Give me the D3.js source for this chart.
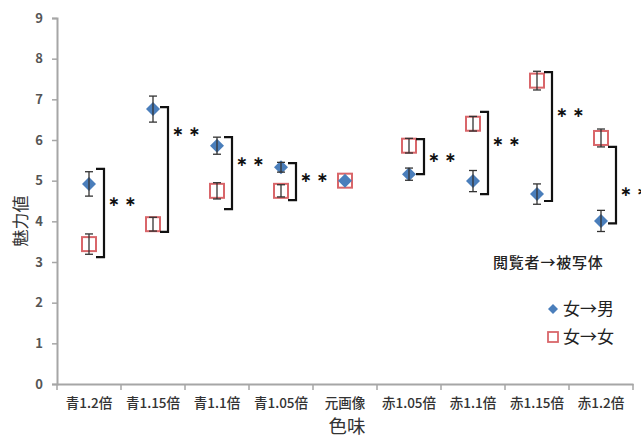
<!DOCTYPE html>
<html><head><meta charset="utf-8">
<script src="https://cdn.jsdelivr.net/npm/d3@7"></script>
<style>body{margin:0;background:#fff}svg{display:block}</style>
</head><body><svg id="c" width="641" height="439"></svg>
<script>
const categories = ["青1.2倍","青1.15倍","青1.1倍","青1.05倍","元画像","赤1.05倍","赤1.1倍","赤1.15倍","赤1.2倍"];
const maleValues = [4.92,6.76,5.86,5.33,5.00,5.16,4.99,4.67,4.01];
const maleErrors = [0.30,0.32,0.21,0.12,0.00,0.15,0.26,0.25,0.26];
const femaleValues = [3.44,3.93,4.75,4.75,5.00,5.86,6.40,7.46,6.05];
const femaleErrors = [0.25,0.17,0.20,0.15,0.00,0.18,0.18,0.23,0.22];
const yTicks = [0,1,2,3,4,5,6,7,8,9];
// significance brackets: category index, top value, bottom value, label level
const sigIndex = [0,1,2,3,5,6,7,8];
const sigTop = [5.29,6.81,6.07,5.43,6.02,6.69,7.67,5.83];
const sigBottom = [3.12,3.74,4.30,4.52,5.16,4.67,4.50,3.95];
const sigLabelY = [4.50,6.22,5.48,5.09,5.58,5.97,6.69,4.75];
const sigLabel = "\u2217 \u2217";
const legendTitle = "閲覧者→被写体";
const seriesNames = ["女→男","女→女"];
const xTitle = "色味";
const yTitle = "魅力値";

const svg = d3.select("#c");
const FONT = "'Noto Sans CJK JP', 'Noto Sans', sans-serif";
const x = d3.scaleBand().domain(categories).range([57,633]);
const y = d3.scaleLinear().domain([0,9]).range([384,18]);
const cx = i => x(categories[i]) + x.bandwidth()/2;
const blue = "#4a7ebb", red = "#d9666a", axisCol = "#a6a6a6";

// axes
const gy = svg.append("g").attr("transform","translate(57,0)")
  .call(d3.axisLeft(y).tickValues(yTicks).tickSize(5).tickPadding(9));
const gx = svg.append("g").attr("transform","translate(0,384)")
  .call(d3.axisBottom(x).tickSize(0).tickPadding(14));
[gy,gx].forEach(g=>{
  g.select(".domain").attr("stroke",axisCol).attr("stroke-width",2);
  g.selectAll(".tick line").attr("stroke",axisCol).attr("stroke-width",1.5);
  g.selectAll("text").style("font-family",FONT);
});
gy.selectAll("text").style("font-size","13px").style("font-weight","600").attr("fill","#555");
gx.selectAll("text").style("font-size","13.5px").style("font-weight","500").attr("fill","#333");
// x boundary ticks
svg.append("g").selectAll("line").data(d3.range(categories.length+1)).join("line")
  .attr("x1",i=>x.range()[0]+i*x.step()).attr("x2",i=>x.range()[0]+i*x.step())
  .attr("y1",384).attr("y2",390).attr("stroke",axisCol).attr("stroke-width",1.5);

// titles
svg.append("text").attr("x",347).attr("y",433).attr("text-anchor","middle")
  .style("font-family",FONT).style("font-size","18.5px").attr("fill","#333").text(xTitle);
svg.append("text").attr("transform","translate(27,221) rotate(-90)").attr("text-anchor","middle")
  .style("font-family",FONT).style("font-size","17px").attr("fill","#333").text(yTitle);

// error bars
function errBars(vals, errs){
  const g = svg.append("g").attr("stroke","#333").attr("stroke-width",1.3);
  vals.forEach((v,i)=>{
    if(errs[i]<=0) return;
    const X = cx(i), t = y(v+errs[i]), b = y(v-errs[i]);
    g.append("line").attr("x1",X).attr("x2",X).attr("y1",t).attr("y2",b);
    g.append("line").attr("x1",X-4).attr("x2",X+4).attr("y1",t).attr("y2",t);
    g.append("line").attr("x1",X-4).attr("x2",X+4).attr("y1",b).attr("y2",b);
  });
}
// female squares
svg.append("g").selectAll("rect").data(femaleValues).join("rect")
  .attr("x",(d,i)=>cx(i)-7).attr("y",d=>y(d)-7).attr("width",14).attr("height",14)
  .attr("fill","none").attr("stroke",red).attr("stroke-width",2);
errBars(femaleValues,femaleErrors);
// male diamonds
svg.append("g").selectAll("path").data(maleValues).join("path")
  .attr("d",(d,i)=>`M${cx(i)},${y(d)-7}L${cx(i)+7},${y(d)}L${cx(i)},${y(d)+7}L${cx(i)-7},${y(d)}Z`)
  .attr("fill",blue);
errBars(maleValues,maleErrors);

// significance brackets
const bx = i => cx(i) + 15;
const gb = svg.append("g");
sigIndex.forEach((ci,k)=>{
  const X = bx(ci), t = y(sigTop[k]), b = y(sigBottom[k]);
  gb.append("path").attr("d",`M${X-8},${t}H${X}V${b}H${X-8}`)
    .attr("fill","none").attr("stroke","#111").attr("stroke-width",2.2);
  gb.append("text").attr("x",X+4).attr("y",y(sigLabelY[k])).attr("dy","0.35em")
    .style("font-family","'DejaVu Sans', sans-serif").style("font-size","14px").style("font-weight","bold")
    .attr("fill","#111").text(sigLabel);
});

// legend
svg.append("text").attr("x",493).attr("y",263).attr("dy","0.35em")
  .style("font-family",FONT).style("font-size","15px").style("font-weight","500").style("letter-spacing","0.8px")
  .attr("fill","#222").text(legendTitle);
const ly = [309,337];
svg.append("path").attr("d",`M553,${ly[0]-5}L558,${ly[0]}L553,${ly[0]+5}L548,${ly[0]}Z`).attr("fill",blue);
svg.append("rect").attr("x",548).attr("y",ly[1]-5).attr("width",10).attr("height",10)
  .attr("fill","none").attr("stroke",red).attr("stroke-width",1.8);
seriesNames.forEach((s,i)=>{
  svg.append("text").attr("x",563).attr("y",ly[i]).attr("dy","0.35em")
    .style("font-family",FONT).style("font-size","17px").attr("fill","#222").text(s);
});
</script></body></html>
